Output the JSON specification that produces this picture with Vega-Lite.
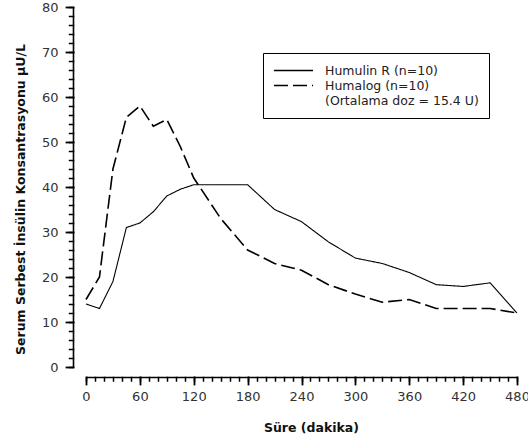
{
  "$schema": "https://vega.github.io/schema/vega-lite/v6.json",
  "width": 431,
  "height": 360,
  "autosize": {"type": "none"},
  "padding": {"left": 86, "top": 7, "right": 11, "bottom": 71},
  "background": "white",
  "config": {"view": {"stroke": null}, "font": "DejaVu Sans"},
  "data": {
    "values": [
      {"t": 0, "v": 14, "s": "Humulin R (n=10)"},
      {"t": 15, "v": 13, "s": "Humulin R (n=10)"},
      {"t": 30, "v": 19, "s": "Humulin R (n=10)"},
      {"t": 45, "v": 31, "s": "Humulin R (n=10)"},
      {"t": 60, "v": 32, "s": "Humulin R (n=10)"},
      {"t": 75, "v": 34.5, "s": "Humulin R (n=10)"},
      {"t": 90, "v": 38, "s": "Humulin R (n=10)"},
      {"t": 105, "v": 39.5, "s": "Humulin R (n=10)"},
      {"t": 120, "v": 40.5, "s": "Humulin R (n=10)"},
      {"t": 180, "v": 40.5, "s": "Humulin R (n=10)"},
      {"t": 210, "v": 35, "s": "Humulin R (n=10)"},
      {"t": 240, "v": 32.3, "s": "Humulin R (n=10)"},
      {"t": 270, "v": 27.8, "s": "Humulin R (n=10)"},
      {"t": 300, "v": 24.2, "s": "Humulin R (n=10)"},
      {"t": 330, "v": 23, "s": "Humulin R (n=10)"},
      {"t": 360, "v": 21, "s": "Humulin R (n=10)"},
      {"t": 390, "v": 18.3, "s": "Humulin R (n=10)"},
      {"t": 420, "v": 17.9, "s": "Humulin R (n=10)"},
      {"t": 450, "v": 18.7, "s": "Humulin R (n=10)"},
      {"t": 480, "v": 12, "s": "Humulin R (n=10)"},
      {"t": 0, "v": 15, "s": "Humalog (n=10)"},
      {"t": 15, "v": 20, "s": "Humalog (n=10)"},
      {"t": 30, "v": 44, "s": "Humalog (n=10)"},
      {"t": 45, "v": 55.5, "s": "Humalog (n=10)"},
      {"t": 60, "v": 58, "s": "Humalog (n=10)"},
      {"t": 75, "v": 53.5, "s": "Humalog (n=10)"},
      {"t": 90, "v": 55, "s": "Humalog (n=10)"},
      {"t": 105, "v": 49, "s": "Humalog (n=10)"},
      {"t": 120, "v": 42, "s": "Humalog (n=10)"},
      {"t": 150, "v": 33, "s": "Humalog (n=10)"},
      {"t": 180, "v": 26, "s": "Humalog (n=10)"},
      {"t": 210, "v": 23, "s": "Humalog (n=10)"},
      {"t": 240, "v": 21.5, "s": "Humalog (n=10)"},
      {"t": 270, "v": 18.3, "s": "Humalog (n=10)"},
      {"t": 300, "v": 16.2, "s": "Humalog (n=10)"},
      {"t": 330, "v": 14.4, "s": "Humalog (n=10)"},
      {"t": 360, "v": 15, "s": "Humalog (n=10)"},
      {"t": 390, "v": 13, "s": "Humalog (n=10)"},
      {"t": 420, "v": 13, "s": "Humalog (n=10)"},
      {"t": 450, "v": 13, "s": "Humalog (n=10)"},
      {"t": 480, "v": 12, "s": "Humalog (n=10)"}
    ]
  },
  "layer": [
    {
      "mark": {"type": "line", "color": "black", "opacity": 0},
      "encoding": {
        "detail": {"field": "s", "type": "nominal"},
        "x": {
          "field": "t", "type": "quantitative",
          "scale": {"domain": [0, 480], "nice": false, "zero": false},
          "axis": {
            "orient": "bottom", "offset": 10, "title": null, "labels": false, "domain": false, "grid": false, "ticks": true,
            "tickCount": 48,
            "tickSize": 3.5, "tickColor": "#000", "tickWidth": 1.5, "tickCap": "square", "tickOpacity": 1
          }
        },
        "y": {
          "field": "v", "type": "quantitative",
          "scale": {"domain": [0, 80], "nice": false},
          "axis": {
            "orient": "left", "offset": 13, "title": null, "labels": false, "domain": false, "grid": false, "ticks": true,
            "tickCount": 40,
            "tickSize": 4, "tickColor": "#000", "tickWidth": 1.5, "tickCap": "square", "tickOpacity": 1
          }
        }
      }
    },
    {
      "mark": {"type": "line", "color": "black"},
      "encoding": {
        "x": {
          "field": "t", "type": "quantitative",
          "scale": {"domain": [0, 480], "nice": false, "zero": false},
          "axis": {
            "orient": "bottom",
            "title": "Süre (dakika)",
            "values": [0, 60, 120, 180, 240, 300, 360, 420, 480],
            "ticks": true, "tickSize": 7, "tickCap": "square", "tickOpacity": 1,
            "offset": 10,
            "grid": false,
            "domainColor": "black", "domainWidth": 1.6,
            "tickColor": "#000", "tickWidth": 1.8,
            "labelFont": "DejaVu Sans", "labelFontSize": 13, "labelColor": "#333",
            "labelPadding": 6, "labelFlush": false,
            "titleFont": "DejaVu Sans", "titleFontSize": 12.5, "titleFontWeight": "bold",
            "titleColor": "#111", "titleBaseline": "top", "titleY": 44, "titleX": 225
          }
        },
        "y": {
          "field": "v", "type": "quantitative",
          "scale": {"domain": [0, 80], "nice": false},
          "axis": {
            "orient": "left",
            "title": "Serum Serbest İnsülin Konsantrasyonu µU/L",
            "values": [0, 10, 20, 30, 40, 50, 60, 70, 80],
            "ticks": true, "tickSize": 7, "tickCap": "square", "tickOpacity": 1,
            "offset": 13,
            "grid": false,
            "domainColor": "black", "domainWidth": 1.6,
            "tickColor": "#000", "tickWidth": 1.8,
            "labelFont": "DejaVu Sans", "labelFontSize": 13, "labelColor": "#333",
            "labelPadding": 8, "labelFlush": false,
            "titleFont": "DejaVu Sans", "titleFontSize": 12.5, "titleFontWeight": "bold",
            "titleColor": "#111", "titlePadding": 14, "titleY": 192
          }
        },
        "strokeWidth": {
          "field": "s", "type": "nominal",
          "scale": {"domain": ["Humulin R (n=10)", "Humalog (n=10)"], "range": [1.1, 1.6]},
          "legend": null
        },
        "strokeDash": {
          "field": "s", "type": "nominal",
          "scale": {"domain": ["Humulin R (n=10)", "Humalog (n=10)", "(Ortalama doz = 15.4 U)"], "range": [[1, 0], [14, 5], [0, 1000]]},
          "legend": {
            "title": null,
            "orient": "none", "legendX": 177, "legendY": 46,
            "strokeColor": "black", "fillColor": "white",
            "padding": 10,
            "symbolType": "stroke", "symbolSize": 1521, "symbolStrokeWidth": 1.4,
            "symbolStrokeColor": "black", "clipHeight": 15,
            "labelFont": "DejaVu Sans", "labelFontSize": 12.5, "labelColor": "#222",
            "labelOffset": 11, "rowPadding": 0
          }
        }
      }
    }
  ],
  "resolve": {"axis": {"x": "independent", "y": "independent"}}
}
